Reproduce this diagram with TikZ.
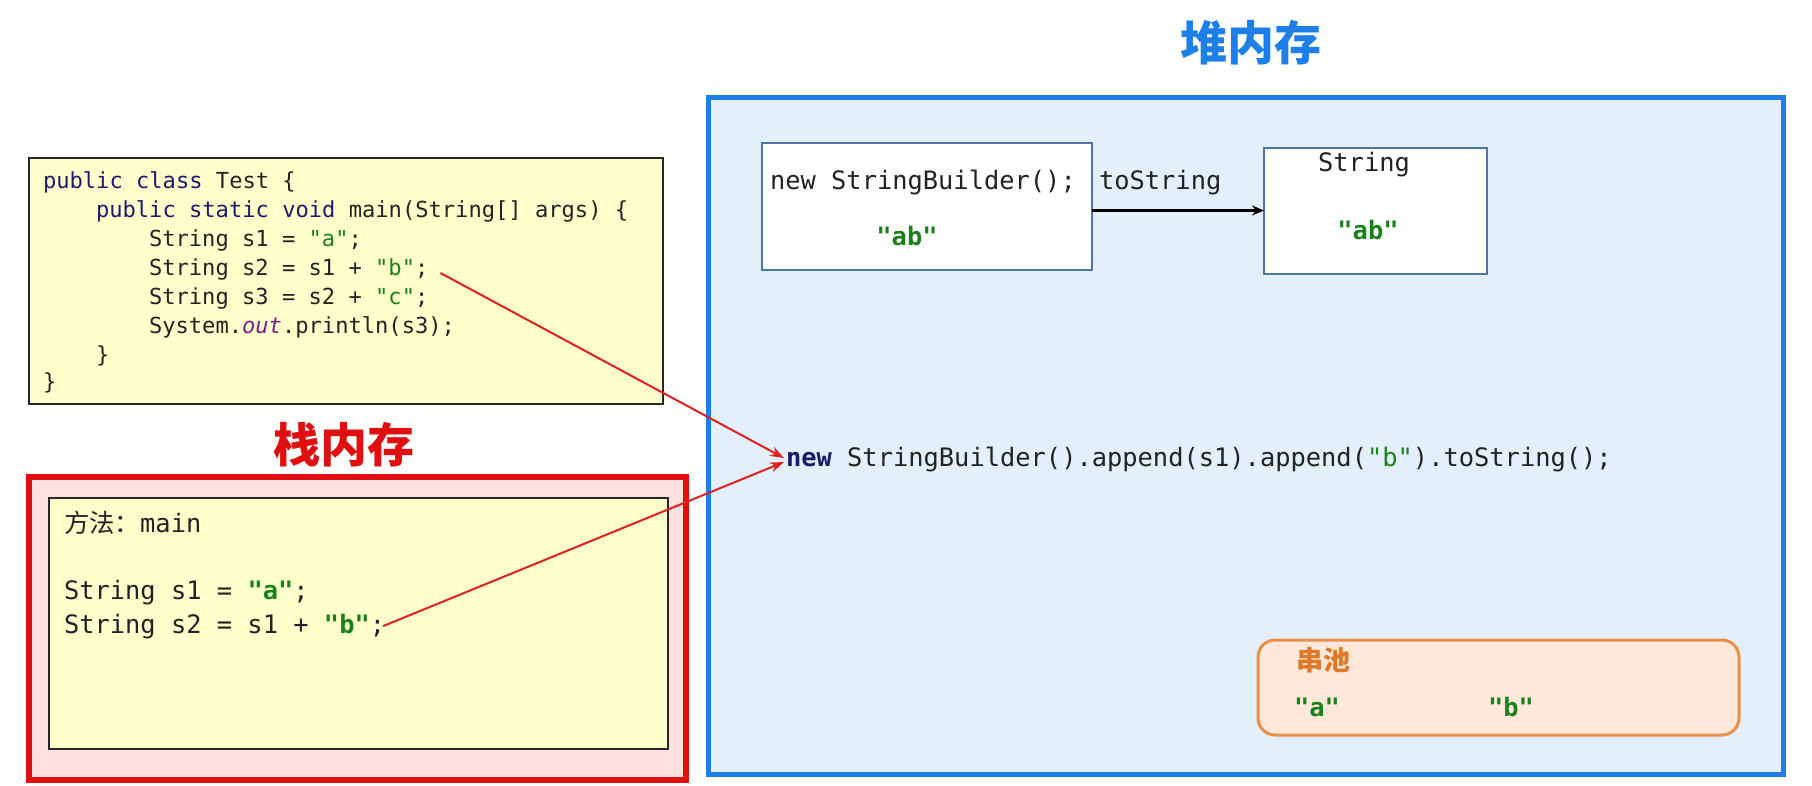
\documentclass[tikz,border=0pt]{standalone}
\usepackage{fontspec}
\setmonofont{DejaVu Sans Mono}
\newfontfamily\cjk{Noto Sans CJK SC}
\usetikzlibrary{arrows.meta}
\definecolor{heapfill}{HTML}{E3F0FC}
\definecolor{heapline}{HTML}{1E7FE8}
\definecolor{stackline}{HTML}{E01010}
\definecolor{stackfill}{HTML}{FDE0E0}
\definecolor{codefill}{HTML}{FFFFCC}
\definecolor{strgreen}{HTML}{1A801A}
\definecolor{kw}{HTML}{1A1A6E}
\definecolor{purp}{HTML}{7A1F8A}
\definecolor{boxline}{HTML}{4F74A8}
\definecolor{poolline}{HTML}{E8904A}
\definecolor{poolfill}{HTML}{FDE8DA}
\definecolor{pooltxt}{HTML}{E07828}
\definecolor{arrowred}{HTML}{E02020}
\definecolor{codetxt}{HTML}{222222}
\newcommand{\sq}[1]{\textcolor{strgreen}{"#1"}}
\newcommand{\bsq}[1]{\textcolor{strgreen}{\bfseries"#1"}}
\tikzset{
  every node/.style={inner sep=0pt, outer sep=0pt},
  region/.style={draw, anchor=north west},
  codeA/.style={anchor=base west, text=codetxt, font=\ttfamily\fontsize{22.1}{26}\selectfont},
  codeB/.style={anchor=base west, text=codetxt, font=\ttfamily\fontsize{25.4}{30}\selectfont},
  title/.style={font=\cjk\bfseries\fontsize{47}{52}\selectfont},
  redarrow/.style={draw=arrowred, line width=2pt, -{Stealth[length=14pt,width=10pt]}},
}
\begin{document}
\begin{tikzpicture}[x=1pt,y=-1pt]
\useasboundingbox[fill=white] (0,0) rectangle (1812,785);

% code box
\node[region, fill=codefill, draw=black!85, line width=1.5pt, minimum width=634pt, minimum height=246pt] (code) at (29,158) {};
\node[codeA] (c1) at (43,188) {\textcolor{kw}{public class} Test \{};
\node[codeA] (c2) at (96,217) {\textcolor{kw}{public static void} main(String[] args) \{};
\node[codeA] (c3) at (149,246) {String s1 = \sq{a};};
\node[codeA] (c4) at (149,275) {String s2 = s1 + \sq{b};};
\node[codeA] (c5) at (149,304) {String s3 = s2 + \sq{c};};
\node[codeA] (c6) at (149,333) {System.\textcolor{purp}{\itshape out}.println(s3);};
\node[codeA] (c7) at (96,362) {\}};
\node[codeA] (c8) at (43,389) {\}};

% stack
\node[title, text=stackline] (stitle) at (344,445) {栈内存};
\node[region, fill=stackfill, draw=stackline, line width=6pt, minimum width=657pt, minimum height=303pt] (stack) at (29,477) {};
\node[region, fill=codefill, draw=black!85, line width=1.5pt, minimum width=619pt, minimum height=251pt] (frame) at (49,498) {};
\node[anchor=base west, text=codetxt] (m) at (64,532) {{\cjk\fontsize{25.4}{30}\selectfont 方法：}{\ttfamily\fontsize{25.4}{30}\selectfont main}};
\node[codeB] (s1) at (64,599) {String s1 = \bsq{a};};
\node[codeB] (s2) at (64,633) {String s2 = s1 + \bsq{b};};

% heap
\node[title, text=heapline] (htitle) at (1251,43) {堆内存};
\node[region, fill=heapfill, draw=heapline, line width=5pt, minimum width=1075pt, minimum height=677pt] (heap) at (708,97) {};
\node[region, fill=white, draw=boxline, line width=2.5pt, minimum width=330pt, minimum height=127pt] (sb) at (762,143) {};
\node[codeB] (sbt) at (770,189) {new StringBuilder();};
\node[text=strgreen, font=\ttfamily\bfseries\fontsize{25.4}{30}\selectfont] (sbab) at (907,236) {"ab"};
\node[region, fill=white, draw=boxline, line width=2.5pt, minimum width=223pt, minimum height=126pt] (str) at (1264,148) {};
\node[text=codetxt, font=\ttfamily\fontsize{25.4}{30}\selectfont] (strt) at (1364,165) {String};
\node[text=strgreen, font=\ttfamily\bfseries\fontsize{25.4}{30}\selectfont] (strab) at (1368,230) {"ab"};
\draw[line width=3pt, -{Stealth[length=12pt,width=10pt]}] ([yshift=-4pt]sb.east) -- ([yshift=-4pt]str.west |- sb.east);
\node[codeB] (ts) at (1099,189) {toString};

\node[codeB] (lng) at (786,466) {\textcolor{kw}{\bfseries new} StringBuilder().append(s1).append(\sq{b}).toString();};

% pool
\node[region, fill=poolfill, draw=poolline, line width=3pt, rounded corners=17pt, minimum width=481pt, minimum height=95pt] (pool) at (1258,640) {};
\node[anchor=west, text=pooltxt, font=\cjk\bfseries\fontsize{27}{32}\selectfont] (pt) at (1296,660) {串池};
\node[text=strgreen, font=\ttfamily\bfseries\fontsize{25.4}{30}\selectfont] (pa) at (1317,707) {"a"};
\node[text=strgreen, font=\ttfamily\bfseries\fontsize{25.4}{30}\selectfont] (pb) at (1511,707) {"b"};

% red arrows
\draw[redarrow] ([xshift=12pt,yshift=-4pt]c4.east) -- ([xshift=-2pt,yshift=1pt]lng.west);
\draw[redarrow] ([xshift=-2pt]s2.east) -- ([xshift=-2pt,yshift=-3pt]lng.west);
\end{tikzpicture}
\end{document}
